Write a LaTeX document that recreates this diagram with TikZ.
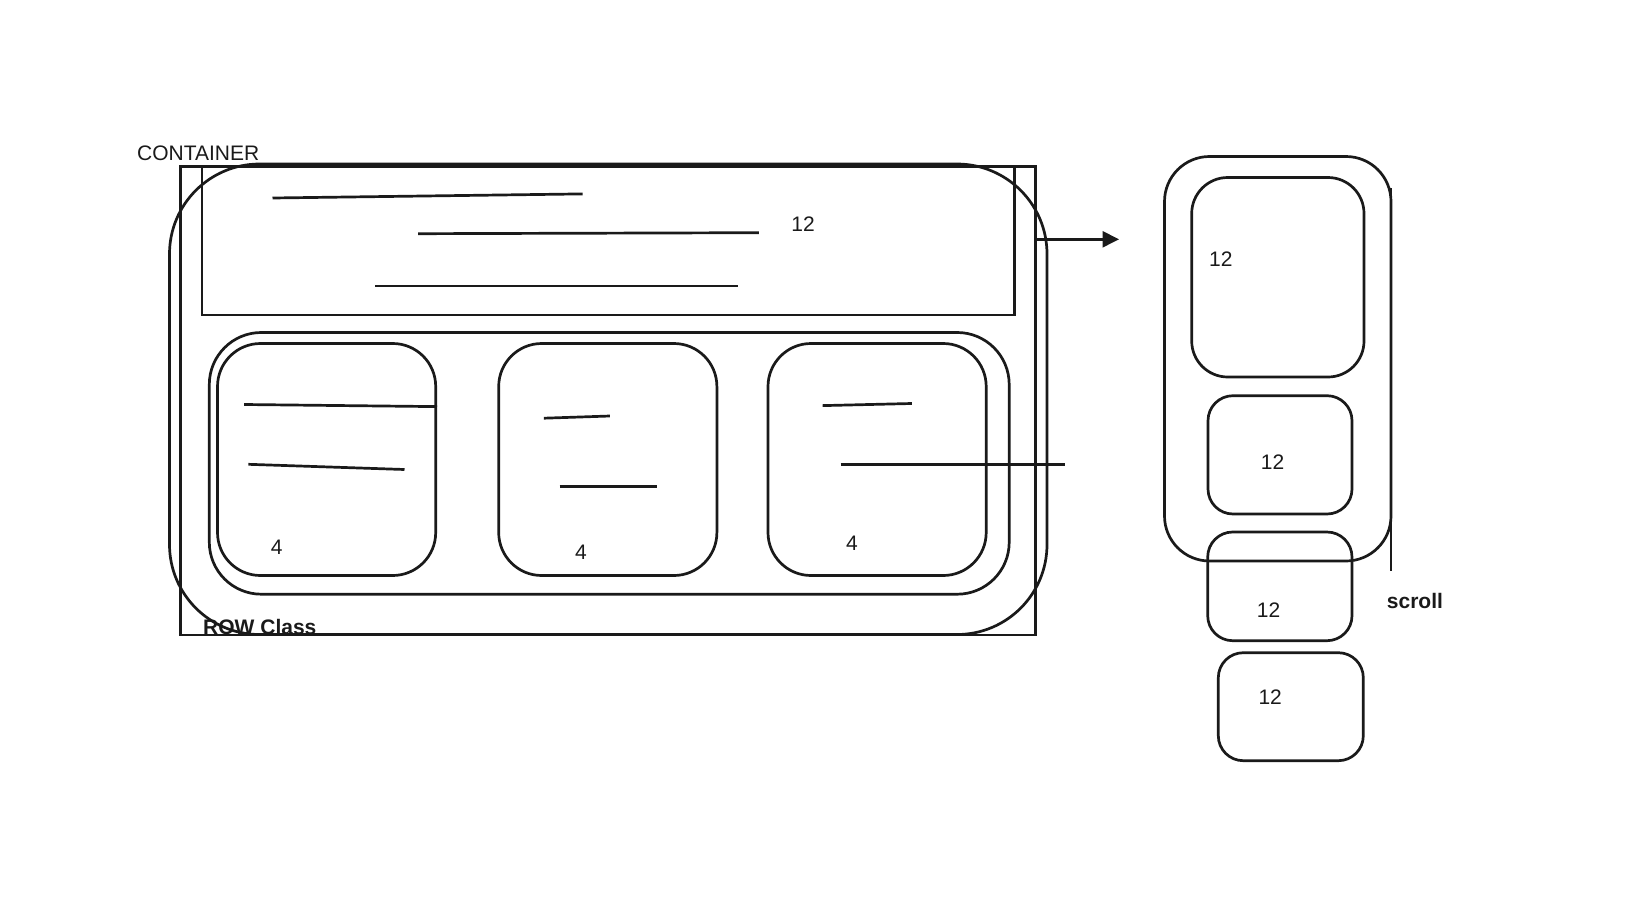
\documentclass[tikz,border=0pt]{standalone}
\usepackage{fontspec}
\setmainfont{Liberation Sans}
\usetikzlibrary{arrows.meta}
\definecolor{ink}{HTML}{1A1A1A}
\tikzset{
  shp/.style={draw=ink, line width=2.7pt, inner sep=0pt, outer sep=0pt},
  scrib/.style={draw=ink, line width=2.7pt},
  lbl/.style={inner sep=0pt, anchor=base west, text=ink, font=\fontsize{21}{25}\selectfont},
  blbl/.style={lbl, font=\fontsize{21}{25}\selectfont\bfseries}
}
\begin{document}
\begin{tikzpicture}[x=1pt,y=-1pt]
\useasboundingbox (0,0) rectangle (1643,897);
% left layout
\node[shp, minimum width=855.2pt, minimum height=468.3pt] (container) at (608.1,400.85) {};
\node[shp, minimum width=877.5pt, minimum height=470.5pt, rounded corners=90pt] (bigrr) at (608.25,399.25) {};
\node[shp, minimum width=812.5pt, minimum height=148.3pt] (toprect) at (608.25,240.85) {};
\node[shp, minimum width=799.9pt, minimum height=261.7pt, rounded corners=52pt] (rowrr) at (609.25,463.35) {};
\node[shp, minimum width=218.2pt, minimum height=232pt, rounded corners=43pt] (card1) at (326.6,459.5) {};
\node[shp, minimum width=218.2pt, minimum height=232pt, rounded corners=43pt] (card2) at (607.8,459.5) {};
\node[shp, minimum width=218.2pt, minimum height=232pt, rounded corners=43pt] (card3) at (877.1,459.5) {};
% scribbles
\draw[scrib] (272.5,198) -- (582.7,193.9);
\draw[scrib] (418,233.7) -- (758.8,232.7);
\draw[scrib] (375.2,286) -- (737.8,286);
\draw[scrib] (244.2,404.5) -- (437,406.6);
\draw[scrib] (248.4,464.3) -- (404.5,469.5);
\draw[scrib] (543.9,418.2) -- (609.9,416);
\draw[scrib] (559.6,486.3) -- (657.1,486.3);
\draw[scrib] (822.7,405.6) -- (911.8,403.5);
\draw[scrib] (840.5,464.3) -- (1064.8,464.3);
% labels
\node[lbl] (tcont) at (137,160) {CONTAINER};
\node[blbl] (trow) at (203,634) {ROW Class};
\node[lbl] (t12a) at (791.2,231.8) {12};
\node[lbl] (t4a) at (270.7,554) {4};
\node[lbl] (t4b) at (574.8,559.8) {4};
\node[lbl] (t4c) at (846,550.4) {4};
% arrow
\coordinate (arrS) at (1036,239.3);
\coordinate (arrE) at (1119,239.3);
\draw[scrib, -{Triangle[length=16.5pt,width=16pt]}] (arrS) -- (arrE);
% phone
\node[shp, minimum width=226.5pt, minimum height=404.5pt, rounded corners=45pt] (phone) at (1277.75,358.75) {};
\node[shp, minimum width=172.3pt, minimum height=199.5pt, rounded corners=36pt] (pc1) at (1277.85,277.25) {};
\node[shp, minimum width=144pt, minimum height=118.3pt, rounded corners=25pt] (pc2) at (1280,454.85) {};
\node[shp, minimum width=144.3pt, minimum height=108.7pt, rounded corners=25pt] (pc3) at (1279.85,586.35) {};
\node[shp, minimum width=145pt, minimum height=108pt, rounded corners=25pt] (pc4) at (1290.8,706.7) {};
\coordinate (scrT) at (1391,188);
\coordinate (scrB) at (1391,571);
\draw[scrib] (scrT) -- (scrB);
\node[lbl] (t12b) at (1209,266.7) {12};
\node[lbl] (t12c) at (1260.7,469.7) {12};
\node[lbl] (t12d) at (1256.7,617.7) {12};
\node[lbl] (t12e) at (1258.3,704) {12};
\node[blbl] (tscroll) at (1386.7,608.3) {scroll};
\end{tikzpicture}
\end{document}
